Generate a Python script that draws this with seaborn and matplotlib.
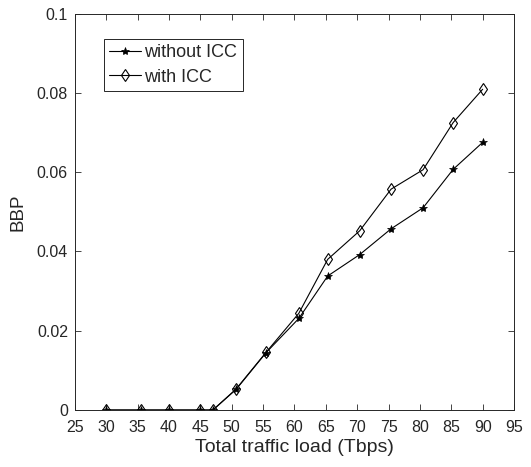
import matplotlib
matplotlib.use("Agg")
import matplotlib.pyplot as plt
import pandas as pd
import seaborn as sns

# total traffic load (Tbps)
load_tbps = [30, 35.5, 40, 45, 47, 50.7, 55.5, 60.7, 65.3, 70.4, 75.4, 80.5, 85.3, 90]
bbp_without_icc = [0, 0, 0, 0, 0, 0.0052, 0.0145, 0.0231, 0.0338, 0.0392, 0.0457, 0.0510, 0.0607, 0.0675]
bbp_with_icc = [0, 0, 0, 0, 0, 0.0053, 0.0146, 0.0244, 0.0380, 0.0452, 0.0557, 0.0606, 0.0725, 0.0809]

x_ticks = list(range(25, 100, 5))
y_ticks = [0, 0.02, 0.04, 0.06, 0.08, 0.1]
y_ticklabels = ["0", "0.02", "0.04", "0.06", "0.08", "0.1"]


def main() -> None:
    sns.set_style("ticks")
    plt.rcParams["font.family"] = ["Liberation Sans", "DejaVu Sans"]

    df = pd.DataFrame({"load": load_tbps, "without": bbp_without_icc, "with": bbp_with_icc})

    fig = plt.figure(figsize=(5.31, 4.67), dpi=100)
    ax = fig.add_axes([0.141, 0.122, 0.827, 0.849])

    sns.lineplot(data=df, x="load", y="without", ax=ax, color="black", lw=0.8,
                 marker="*", markersize=6, markerfacecolor="black", markeredgecolor="black",
                 markeredgewidth=0.5, label="without ICC")
    sns.lineplot(data=df, x="load", y="with", ax=ax, color="black", lw=0.8,
                 marker="d", markersize=6.5, markerfacecolor="none", markeredgecolor="black",
                 markeredgewidth=0.8, label="with ICC")

    ax.set_xlim(25, 95)
    ax.set_ylim(0, 0.1)
    ax.set_xticks(x_ticks)
    ax.set_yticks(y_ticks)
    ax.set_yticklabels(y_ticklabels)
    ax.tick_params(direction="in", top=True, right=True, length=4, width=0.6,
                   labelsize=11.5, color="#262626", labelcolor="#262626")
    ax.tick_params(axis="x", pad=7)
    ax.tick_params(axis="y", pad=5)
    for side in ax.spines.values():
        side.set_visible(True)
        side.set_linewidth(0.7)
        side.set_color("#262626")
    ax.set_xlabel("Total traffic load (Tbps)", fontsize=14, color="#262626", labelpad=3)
    ax.set_ylabel("BBP", fontsize=13.5, color="#262626", labelpad=7)

    leg = ax.legend(loc="upper left", bbox_to_anchor=(0.066, 0.936), fontsize=13,
                    frameon=True, fancybox=False, framealpha=1, edgecolor="#262626",
                    handlelength=1.75, handletextpad=0.2, borderpad=0.3,
                    labelspacing=0.4, borderaxespad=0)
    leg.get_frame().set_linewidth(0.7)

    fig.savefig("out.png", dpi=100)
    plt.close(fig)


if __name__ == "__main__":
    main()
